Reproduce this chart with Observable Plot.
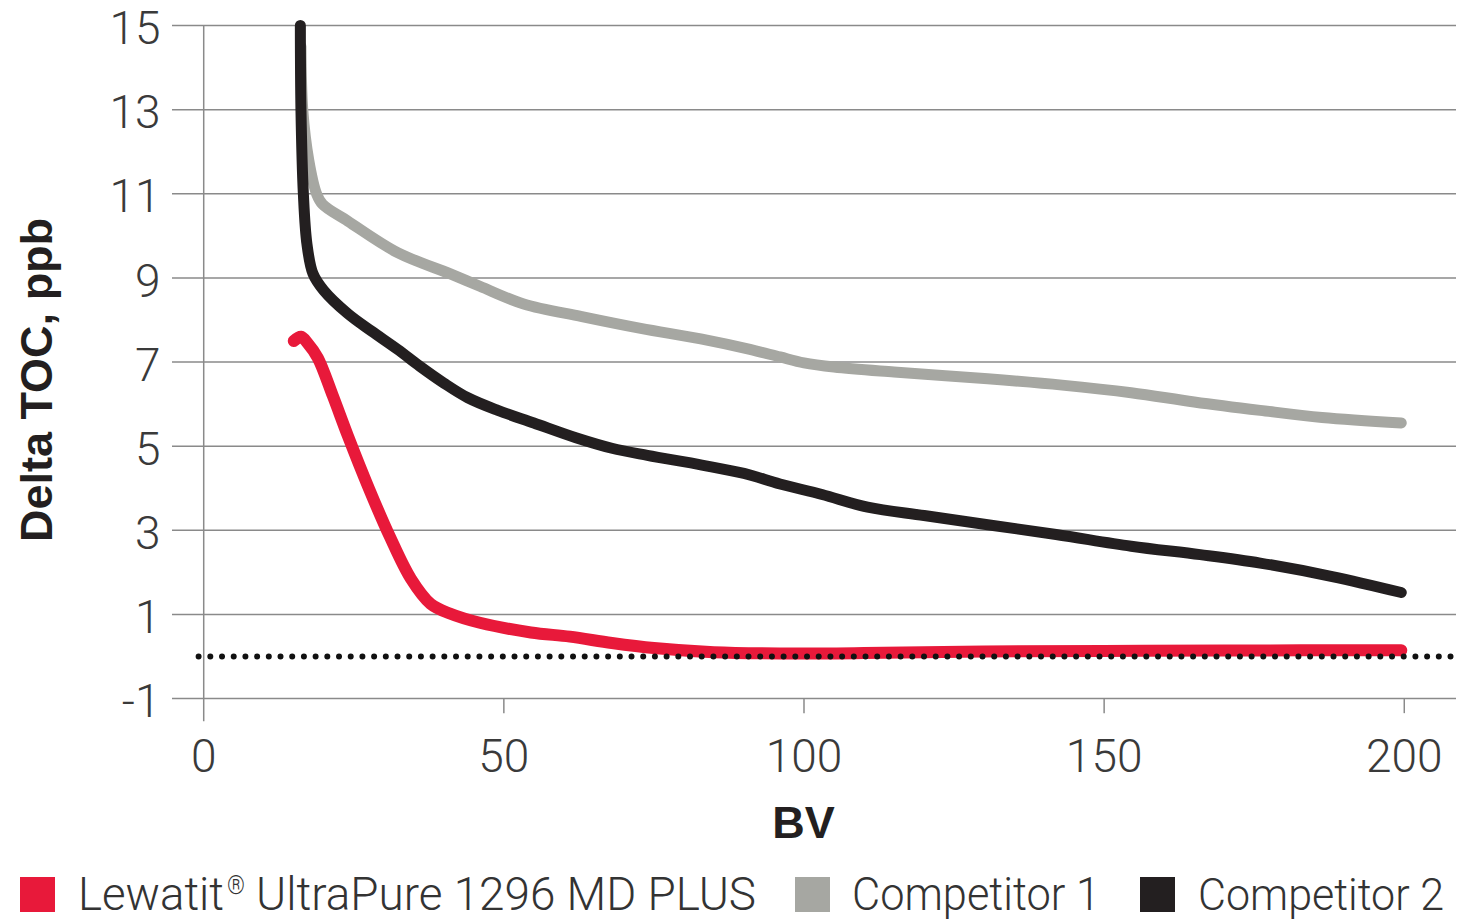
<!DOCTYPE html>
<html>
<head>
<meta charset="utf-8">
<script src="https://cdn.jsdelivr.net/npm/d3@7"></script>
<script src="https://cdn.jsdelivr.net/npm/@observablehq/plot@0.6"></script>
<style>
  html, body { margin: 0; padding: 0; background: #fff; }
  #chart { width: 1460px; }
  #legend { width: 1460px; height: 60px; }
</style>
</head>
<body>
<div id="chart"></div>
<div id="legend"></div>
<script>
// ---- data ----
const xTicks = [0, 50, 100, 150, 200];
const yTicks = [-1, 1, 3, 5, 7, 9, 11, 13, 15];

const lewatitBV  = [15, 16.2, 17.3, 19, 21.5, 24, 27.5, 31, 34.5, 37.8, 41, 46, 54.5, 61, 68, 75, 85, 96, 110, 130, 150, 170, 199.5];
const lewatitTOC = [7.5, 7.6, 7.45, 7.1, 6.2, 5.25, 4.0, 2.85, 1.85, 1.25, 1.02, 0.8, 0.57, 0.47, 0.32, 0.2, 0.1, 0.07, 0.08, 0.12, 0.13, 0.14, 0.15];

const comp1BV  = [16.2, 16.5, 17.5, 18.8, 19.8, 24, 32.3, 41, 46, 53.3, 63, 72.8, 82.8, 91, 96, 100, 105, 115, 130.6, 143, 154.5, 165, 176, 186.3, 199.5];
const comp1TOC = [14.5, 13, 11.8, 11, 10.75, 10.35, 9.6, 9.1, 8.8, 8.38, 8.08, 7.8, 7.55, 7.3, 7.12, 6.98, 6.88, 6.76, 6.6, 6.45, 6.27, 6.05, 5.85, 5.68, 5.55];

const comp2BV  = [16.1, 16.2, 16.6, 17.2, 18.2, 20, 24, 28, 32.3, 36, 40, 44, 49, 55, 62, 68, 73.9, 83, 90, 96, 103, 110.6, 120, 130.6, 142, 154.5, 166, 176, 188, 199.5];
const comp2TOC = [15, 13, 11, 9.8, 9.1, 8.7, 8.15, 7.73, 7.3, 6.9, 6.5, 6.15, 5.85, 5.55, 5.2, 4.95, 4.78, 4.55, 4.35, 4.1, 3.85, 3.55, 3.35, 3.13, 2.9, 2.62, 2.42, 2.22, 1.9, 1.52];

const baselineBV = [-0.85, 209.5];
const baselineTOC = [0, 0];

const seriesNames = ["Lewatit® UltraPure 1296 MD PLUS", "Competitor 1", "Competitor 2"];
const seriesColors = ["#e8193a", "#a6a7a2", "#231f20"];

// ---- build ----
const toRows = (xs, ys) => xs.map((x, i) => ({x, y: ys[i]}));
const red = toRows(lewatitBV, lewatitTOC);
const gray = toRows(comp1BV, comp1TOC);
const black = toRows(comp2BV, comp2TOC);
const base = toRows(baselineBV, baselineTOC);

const tickFont = "Roboto, 'Liberation Sans', sans-serif";
const gridColor = "#8a8a8a";

const chart = Plot.plot({
  width: 1460,
  height: 860,
  marginLeft: 172,
  marginRight: 4,
  marginTop: 25,
  marginBottom: 162,
  style: {background: "#fff", overflow: "visible"},
  x: {domain: [-5.2, 208.7], axis: null},
  y: {domain: [-1, 15], axis: null},
  marks: [
    Plot.ruleY(yTicks, {y: d => d, x1: -5.2, x2: 208.7, stroke: gridColor, strokeWidth: 1.5}),
    Plot.ruleX([0], {x: d => d, y1: -1.55, y2: 15, stroke: gridColor, strokeWidth: 1.5}),
    Plot.ruleX(xTicks.filter(d => d > 0), {x: d => d, y1: -1, y2: -1.36, stroke: gridColor, strokeWidth: 1.5}),
    Plot.text(yTicks, {x: -5.2, y: d => d, dx: -12, dy: 4, text: d => String(d), textAnchor: "end",
      fontSize: 46, fontFamily: tickFont, fontWeight: 300, fill: "#3a3a3a"}),
    Plot.text(xTicks, {x: d => d, y: -1, dy: 59, text: d => String(d),
      fontSize: 46, fontFamily: tickFont, fontWeight: 300, fill: "#3a3a3a"}),
    Plot.text(["Delta TOC, ppb"], {frameAnchor: "left", textAnchor: "middle", lineAnchor: "middle", dx: -135, dy: 18, rotate: -90, text: d => d,
      fontSize: 45, fontWeight: "bold", fontFamily: "'Liberation Sans', Arial, sans-serif", fill: "#231f20"}),
    Plot.text(["BV"], {frameAnchor: "bottom", lineAnchor: "middle", dx: -11, dy: 125, text: d => d,
      fontSize: 45, fontWeight: "bold", fontFamily: "'Liberation Sans', Arial, sans-serif", fill: "#231f20"}),
    Plot.line(gray, {x: "x", y: "y", stroke: seriesColors[1], strokeWidth: 11, curve: "catmull-rom", strokeLinecap: "round", strokeLinejoin: "round"}),
    Plot.line(black, {x: "x", y: "y", stroke: seriesColors[2], strokeWidth: 11, curve: "catmull-rom", strokeLinecap: "round", strokeLinejoin: "round"}),
    Plot.line(red, {x: "x", y: "y", stroke: seriesColors[0], strokeWidth: 12, curve: "catmull-rom", strokeLinecap: "round", strokeLinejoin: "round"}),
    Plot.line(base, {x: "x", y: "y", stroke: "#111", strokeWidth: 6, strokeDasharray: "0 11.7", strokeLinecap: "round"})
  ]
});
document.getElementById("chart").append(chart);

// ---- legend ----
const legendSquareX = [20, 795, 1140];
const ns = "http://www.w3.org/2000/svg";
const lsvg = document.createElementNS(ns, "svg");
lsvg.setAttribute("width", 1460);
lsvg.setAttribute("height", 60);
function addText(str, x, y, size, len) {
  const t = document.createElementNS(ns, "text");
  t.setAttribute("x", x);
  t.setAttribute("y", y);
  t.setAttribute("font-family", tickFont);
  t.setAttribute("font-weight", 300);
  t.setAttribute("font-size", size);
  t.setAttribute("fill", "#333");
  if (len) {
    t.setAttribute("textLength", len);
    t.setAttribute("lengthAdjust", "spacingAndGlyphs");
  }
  t.textContent = str;
  lsvg.append(t);
}
seriesNames.forEach((name, i) => {
  const r = document.createElementNS(ns, "rect");
  r.setAttribute("x", legendSquareX[i]);
  r.setAttribute("y", 17);
  r.setAttribute("width", 35);
  r.setAttribute("height", 35);
  r.setAttribute("fill", seriesColors[i]);
  lsvg.append(r);
});
// split the registered mark so it can be set as a superscript
const [lewA, lewB] = seriesNames[0].split("®");
addText(lewA, 78, 50, 47, 146);
addText("®", 227, 34, 26, 18);
addText(lewB.trim(), 256, 50, 47, 500);
addText(seriesNames[1], 852, 50, 47, 248);
addText(seriesNames[2], 1198, 50, 45, 246);
document.getElementById("legend").append(lsvg);
</script>
</body>
</html>
